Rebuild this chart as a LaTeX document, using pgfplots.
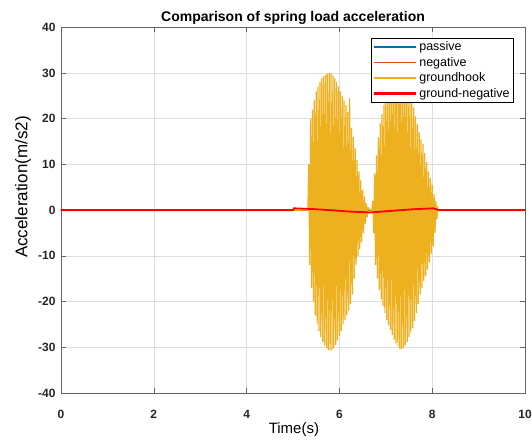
\documentclass[border=0pt]{standalone}
\usepackage{pgfplots}
\pgfplotsset{compat=1.18}
\usepackage{fontspec}
\setmainfont{Liberation Sans}
\definecolor{mblue}{RGB}{0,114,189}
\definecolor{morange}{RGB}{217,83,25}
\definecolor{myellow}{RGB}{237,177,32}
\definecolor{axgray}{RGB}{100,100,100}
\begin{document}
\begin{tikzpicture}
\useasboundingbox (-61pt,-48pt) rectangle (471pt,393pt);
\begin{axis}[
  at={(0pt,0pt)}, anchor=south west,
  scale only axis,
  width=464pt, height=365.7pt,
  xmin=0, xmax=10, ymin=-40, ymax=40,
  xtick={0,2,4,6,8,10},
  ytick={-40,-30,-20,-10,0,10,20,30,40},
  grid=major,
  major grid style={draw=black!13, line width=0.5pt},
  axis line style={draw=axgray, line width=0.6pt},
  tick style={draw=axgray, line width=0.6pt},
  tick align=inside,
  major tick length=5pt,
  /pgf/number format/assume math mode=true,
  ticklabel style={font=\fontsize{12}{14}\selectfont\bfseries, text=black!85},
  xticklabel style={yshift=-14pt},
  yticklabel style={xshift=-2pt},
  every axis title shift=0pt,
  title={\bfseries Comparison of spring load acceleration},
  title style={font=\fontsize{14}{16}\selectfont, at={(axis description cs:0.5,1.017)}, anchor=base},
  xlabel={Time(s)},
  ylabel={Acceleration(m/s2)},
  xlabel style={font=\fontsize{15}{17}\selectfont, at={(axis description cs:0.502,-0.099)}, anchor=center},
  ylabel style={font=\fontsize{17}{19}\selectfont, at={(axis description cs:-0.082,0.563)}, anchor=center},
  legend cell align=left,
  legend style={at={(0.976,0.971)}, anchor=north east,
    font=\fontsize{12.5}{14}\selectfont, row sep=1pt, inner xsep=2pt, inner ysep=1.5pt},
  legend image code/.code={\draw[#1] (0pt,0pt) -- (42pt,0pt);},
]
\addplot[color=mblue, line width=1.1pt, legend image post style={color=mblue, line width=1.5pt}] coordinates {(0,0) (10,0)};
\addlegendentry{passive}
\addplot[color=morange, line width=1.1pt, legend image post style={color=morange, line width=1.5pt}] coordinates {(0,0) (10,0)};
\addlegendentry{negative}
\addplot[color=myellow, line width=1.2pt, legend image post style={color=myellow, line width=1.5pt}] coordinates {
(0,0) (5.32,0)
(5.34,10) (5.36,-12) (5.38,20) (5.40,-17) (5.42,22) (5.44,-20) (5.46,24) (5.48,-23)
(5.50,26) (5.52,-25) (5.54,27) (5.56,-26.5) (5.58,28) (5.60,-27.8) (5.62,28.8) (5.64,-28.8)
(5.66,29.3) (5.68,-29.6) (5.70,29.6) (5.72,-30.2) (5.74,29.9) (5.76,-30.6) (5.78,30) (5.80,-30.8)
(5.82,30) (5.84,-30.6) (5.86,29.5) (5.88,-30.2) (5.90,28.8) (5.92,-29.5) (5.94,28) (5.96,-28.5)
(5.98,27) (6.00,-27.5) (6.02,26) (6.04,-26.5) (6.06,25) (6.08,-25) (6.10,24) (6.12,-24)
(6.14,23) (6.16,-23) (6.18,21.5) (6.20,-22) (6.22,24.5) (6.24,-20.5) (6.26,18) (6.28,-18.5)
(6.30,16) (6.32,-15) (6.34,13.5) (6.36,-12) (6.38,11) (6.40,-10) (6.42,8.5) (6.44,-8.5)
(6.46,6.5) (6.48,-7) (6.50,4.5) (6.52,-5) (6.54,3) (6.56,-3) (6.58,1.5) (6.60,-1.5) (6.62,0.5)
(6.66,0) (6.70,0)
(6.72,2) (6.74,-5) (6.76,8) (6.78,-12) (6.80,12) (6.82,-15) (6.84,16) (6.86,-17.5)
(6.88,19) (6.90,-19.5) (6.92,21) (6.94,-21) (6.96,23) (6.98,-22.5) (7.00,24.5) (7.02,-24)
(7.04,25.8) (7.06,-25.2) (7.08,27) (7.10,-26.2) (7.12,28) (7.14,-27.3) (7.16,28.8) (7.18,-28.3)
(7.20,29.3) (7.22,-29.1) (7.24,29.6) (7.26,-29.8) (7.28,29.8) (7.30,-30.3) (7.32,29.8) (7.34,-30.4)
(7.36,29.4) (7.38,-30.2) (7.40,28.8) (7.42,-29.6) (7.44,28) (7.46,-28.8) (7.48,27) (7.50,-27.8)
(7.52,25.5) (7.54,-26.8) (7.56,24) (7.58,-25.8) (7.60,22.5) (7.62,-24.2) (7.64,20.5) (7.66,-22.5)
(7.68,18.8) (7.70,-20.5) (7.72,17) (7.74,-18.5) (7.76,15.5) (7.78,-17) (7.80,14.5) (7.82,-15.5)
(7.84,12.5) (7.86,-14.5) (7.88,10.5) (7.90,-13) (7.92,8.5) (7.94,-11.5) (7.96,7) (7.98,-9.5)
(8.00,5.5) (8.02,-8) (8.04,3.5) (8.06,-5) (8.08,2) (8.10,-2) (8.12,0.5)
(8.14,0) (10,0)
};
\addlegendentry{groundhook}
\addplot[color=red, line width=1.8pt, legend image post style={color=red, line width=2.4pt}] coordinates {
(0,0) (5.00,0) (5.02,0.4) (5.4,0.25) (5.8,0.0) (6.2,-0.3) (6.66,-0.5) (7.2,-0.1) (7.6,0.2) (8.02,0.4) (8.15,0) (10,0)
};
\addlegendentry{ground-negative}
\end{axis}
\end{tikzpicture}
\end{document}
